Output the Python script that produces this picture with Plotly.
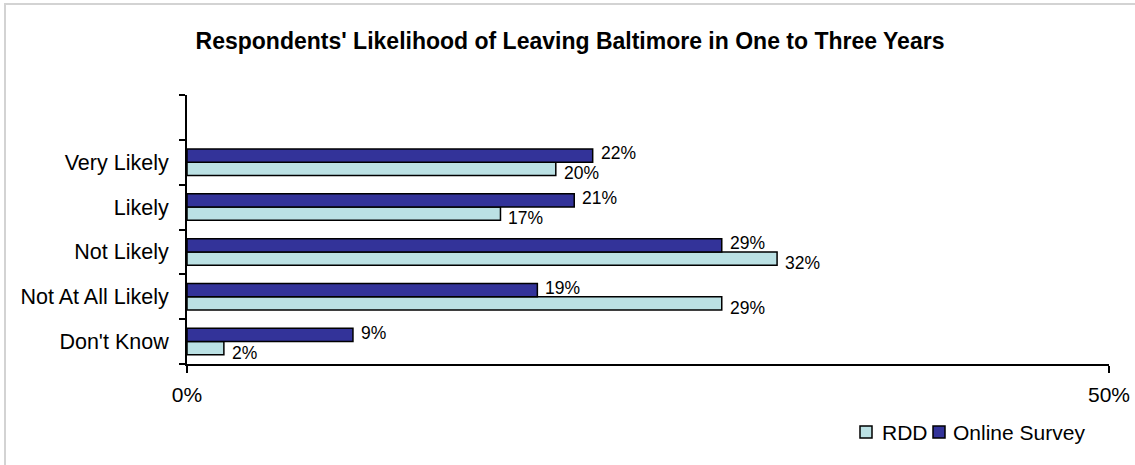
import plotly.graph_objects as go

categories = ["Very Likely", "Likely", "Not Likely", "Not At All Likely", "Don't Know"]
rdd = [20, 17, 32, 29, 2]
online = [22, 21, 29, 19, 9]
series_names = ["RDD", "Online Survey"]
series_colors = ["#BBE1E4", "#333399"]
x_ticks = [0, 50]
x_tick_labels = ["0%", "50%"]
title_text = "Respondents' Likelihood of Leaving Baltimore in One to Three Years"

FONT = "Liberation Sans, Arial, sans-serif"
W, H = 1135, 465
n = len(categories)
# numeric positions: top category highest, with an empty slot above it
ypos = [n - 1 - i for i in range(n)]

fig = go.Figure()
fig.add_trace(go.Bar(
    y=ypos, x=rdd, name=series_names[0], orientation="h",
    marker=dict(color=series_colors[0], line=dict(color="black", width=1.5)),
))
fig.add_trace(go.Bar(
    y=ypos, x=online, name=series_names[1], orientation="h",
    marker=dict(color=series_colors[1], line=dict(color="black", width=1.5)),
))

for yv, v in zip(ypos, rdd):
    fig.add_annotation(x=v, y=yv, xref="x", yref="y", text=f"{v}%", showarrow=False,
                       xanchor="left", yanchor="middle", xshift=6, yshift=-11,
                       font=dict(family=FONT, size=17.5, color="black"))
for yv, v in zip(ypos, online):
    fig.add_annotation(x=v, y=yv, xref="x", yref="y", text=f"{v}%", showarrow=False,
                       xanchor="left", yanchor="middle", xshift=6, yshift=9,
                       font=dict(family=FONT, size=17.5, color="black"))

L, T, PW, PH = 187, 95, 922, 269


def px(xp):
    return (xp - L) / PW


def py(yp):
    return (T + PH - yp) / PH


# light gray chart border: only left and top edges fall inside the image
fig.add_shape(type="line", xref="paper", yref="paper",
              x0=px(5), x1=px(5), y0=py(470), y1=py(3),
              line=dict(color="#D3D3D3", width=2))
fig.add_shape(type="line", xref="paper", yref="paper",
              x0=px(4), x1=px(1140), y0=py(4), y1=py(4),
              line=dict(color="#D3D3D3", width=2))

# custom legend (Excel style: small square then label)
legend_sq = [860, 933]
legend_tx = [880, 951]
for name, col, sx, tx in zip(series_names, series_colors, legend_sq, legend_tx):
    fig.add_shape(type="rect", xref="paper", yref="paper",
                  x0=px(sx), x1=px(sx + 12), y0=py(438), y1=py(426),
                  line=dict(color="black", width=1.5), fillcolor=col)
    fig.add_annotation(xref="paper", yref="paper", x=px(tx), y=py(432), text=name,
                       showarrow=False, xanchor="left", yanchor="middle",
                       font=dict(family=FONT, size=21, color="black"))

fig.update_layout(
    width=W, height=H, autosize=False,
    margin=dict(l=L, r=W - L - PW, t=T, b=H - T - PH, autoexpand=False),
    paper_bgcolor="white", plot_bgcolor="white",
    barmode="group", bargap=0.41, bargroupgap=0,
    title=dict(text=f"<b>{title_text}</b>", x=570 / W, xanchor="center",
               y=1 - 41 / H, yanchor="middle", yref="container", xref="container",
               font=dict(family=FONT, size=23, color="black")),
    font=dict(family=FONT, color="black"),
    showlegend=False,
)

fig.update_xaxes(range=[0, 50], tickvals=x_ticks, ticktext=x_tick_labels,
                 showline=True, linecolor="black", linewidth=2,
                 ticks="outside", ticklen=7, tickwidth=2, tickcolor="black",
                 showgrid=False, zeroline=False, ticklabelstandoff=4, automargin=False,
                 tickfont=dict(family=FONT, size=21, color="black"), fixedrange=True)

fig.update_yaxes(range=[-0.5, n + 0.5], tickvals=ypos, ticktext=categories,
                 showline=True, linecolor="black", linewidth=2,
                 ticks="outside", ticklen=0, showgrid=False, zeroline=False,
                 ticklabelstandoff=12, automargin=False,
                 minor=dict(tickvals=[k - 0.5 for k in range(n + 2)], ticks="outside",
                            ticklen=6, tickwidth=2, tickcolor="black", showgrid=False),
                 tickfont=dict(family=FONT, size=21.5, color="black"), fixedrange=True)

fig.write_html("out.html", config={"displayModeBar": False, "responsive": False},
               post_script="document.body.style.margin='0';document.body.style.overflow='hidden';")
